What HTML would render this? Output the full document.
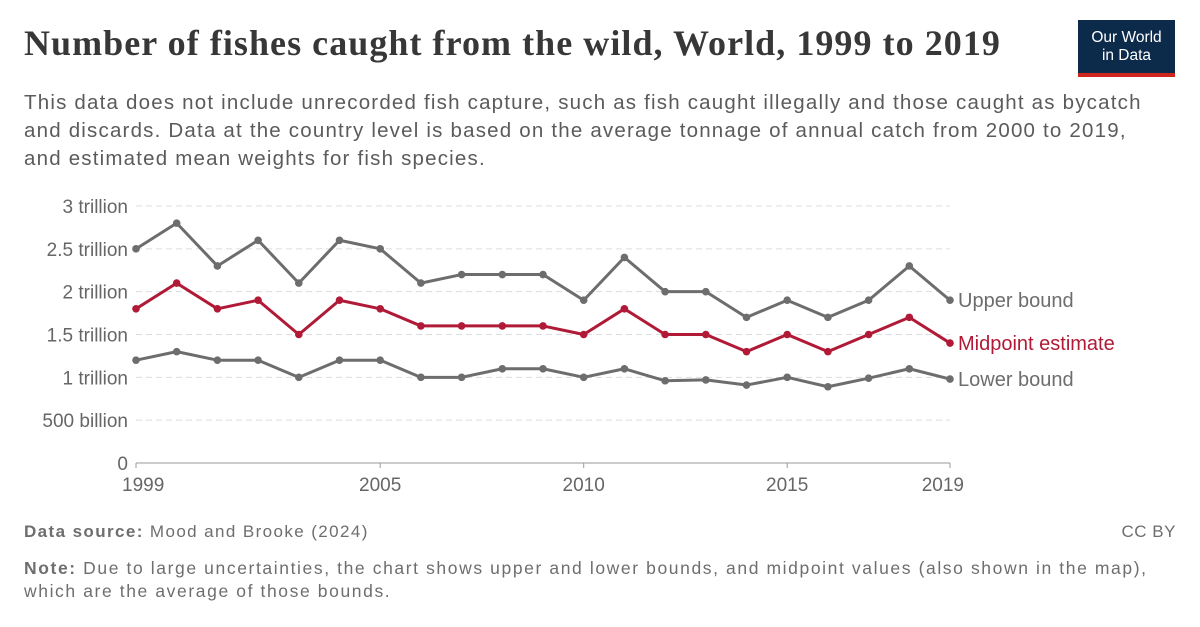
<!DOCTYPE html>
<html><head><meta charset="utf-8">
<style>
body{margin:0;width:1200px;height:627px;background:#fff;font-family:"Liberation Sans",sans-serif;overflow:hidden;position:relative}
.t{position:absolute;margin:0}
</style></head><body>
<h1 class="t" style="left:24px;top:22px;font-family:'Liberation Serif',serif;font-size:36px;font-weight:bold;color:#373737;letter-spacing:1.05px;white-space:nowrap">Number of fishes caught from the wild, World, 1999 to 2019</h1>
<div class="t" style="left:1078px;top:20px;width:97px;height:57px;background:#0c2a4a;color:#fff;font-size:15.5px;text-align:center;line-height:18px;padding-top:9px;box-sizing:border-box">Our World<br>in Data<div style="position:absolute;left:0;right:0;bottom:0;height:4px;background:#ce261e"></div></div>
<p class="t" style="left:24px;top:89px;white-space:nowrap;font-size:20.5px;letter-spacing:1.2px;line-height:28px;color:#5b5b5b">This data does not include unrecorded fish capture, such as fish caught illegally and those caught as bycatch<br>and discards. Data at the country level is based on the average tonnage of annual catch from 2000 to 2019,<br>and estimated mean weights for fish species.</p>
<svg id="chart" width="1200" height="627" style="position:absolute;left:0;top:0"></svg>
<div class="t" style="left:24px;top:522px;font-size:17px;letter-spacing:1.4px;color:#6e6e6e"><b>Data source:</b> Mood and Brooke (2024)</div>
<div class="t" style="right:24px;top:522px;font-size:17px;letter-spacing:0.5px;color:#6e6e6e">CC BY</div>
<div class="t" style="left:24px;top:557px;white-space:nowrap;font-size:17.5px;letter-spacing:1.6px;line-height:23px;color:#6e6e6e"><b>Note:</b> Due to large uncertainties, the chart shows upper and lower bounds, and midpoint values (also shown in the map),<br>which are the average of those bounds.</div>
<script>
const years=[1999,2000,2001,2002,2003,2004,2005,2006,2007,2008,2009,2010,2011,2012,2013,2014,2015,2016,2017,2018,2019];
const upper=[2.5,2.8,2.3,2.6,2.1,2.6,2.5,2.1,2.2,2.2,2.2,1.9,2.4,2.0,2.0,1.7,1.9,1.7,1.9,2.3,1.9];
const mid=[1.8,2.1,1.8,1.9,1.5,1.9,1.8,1.6,1.6,1.6,1.6,1.5,1.8,1.5,1.5,1.3,1.5,1.3,1.5,1.7,1.4];
const lower=[1.2,1.3,1.2,1.2,1.0,1.2,1.2,1.0,1.0,1.1,1.1,1.0,1.1,0.96,0.97,0.91,1.0,0.89,0.99,1.1,0.98];
const yTicks=[0,0.5,1,1.5,2,2.5,3];
const yLabels=["0","500 billion","1 trillion","1.5 trillion","2 trillion","2.5 trillion","3 trillion"];
const xTicks=[1999,2005,2010,2015,2019];
const NS="http://www.w3.org/2000/svg",svg=document.getElementById('chart');
const X=y=>136+(y-1999)*(950-136)/20, Y=v=>463-v*(463-206)/3;
function el(t,a){const e=document.createElementNS(NS,t);for(const k in a)e.setAttribute(k,a[k]);svg.appendChild(e);return e;}
yTicks.forEach((v,i)=>{
 if(v>0){const g=el('line',{x1:136,x2:950,y1:Y(v),y2:Y(v),stroke:'#ddd','stroke-dasharray':'6,4'});
 
 }
 const t=el('text',{x:128,y:Y(v)+7,'text-anchor':'end','font-size':19,fill:'#666','font-family':'Liberation Sans,sans-serif'});t.textContent=yLabels[i];
 
 
});
const ax=el('line',{x1:136,x2:950,y1:463,y2:463,stroke:'#999'});


xTicks.forEach(yr=>{
 el('line',{x1:X(yr),x2:X(yr),y1:463,y2:468,stroke:'#999'});
 const t=el('text',{x:X(yr),y:491,'text-anchor':yr==1999?'start':(yr==2019?'end':'middle'),'font-size':19,fill:'#666','font-family':'Liberation Sans,sans-serif'});
 if(yr==1999)t.setAttribute('x',X(yr)-14);
 if(yr==2019)t.setAttribute('x',X(yr)+14);
 t.textContent=yr;
 
 
});
function series(vals,color,name,label){
 const p=el('polyline',{points:vals.map((v,i)=>X(years[i])+','+Y(v)).join(' '),fill:'none',stroke:color,'stroke-width':3,'stroke-linejoin':'round'});
 
 
 vals.forEach((v,i)=>{const c=el('circle',{cx:X(years[i]),cy:Y(v),r:3.8,fill:color});
  
  });
 const t=el('text',{x:958,y:Y(vals[vals.length-1])+7,'font-size':20,fill:color,'font-family':'Liberation Sans,sans-serif'});t.textContent=label;
 
 
}
series(upper,'#6d6d6d','upper-bound','Upper bound');
series(lower,'#6d6d6d','lower-bound','Lower bound');
series(mid,'#b01a36','midpoint','Midpoint estimate');
</script>
</body></html>
